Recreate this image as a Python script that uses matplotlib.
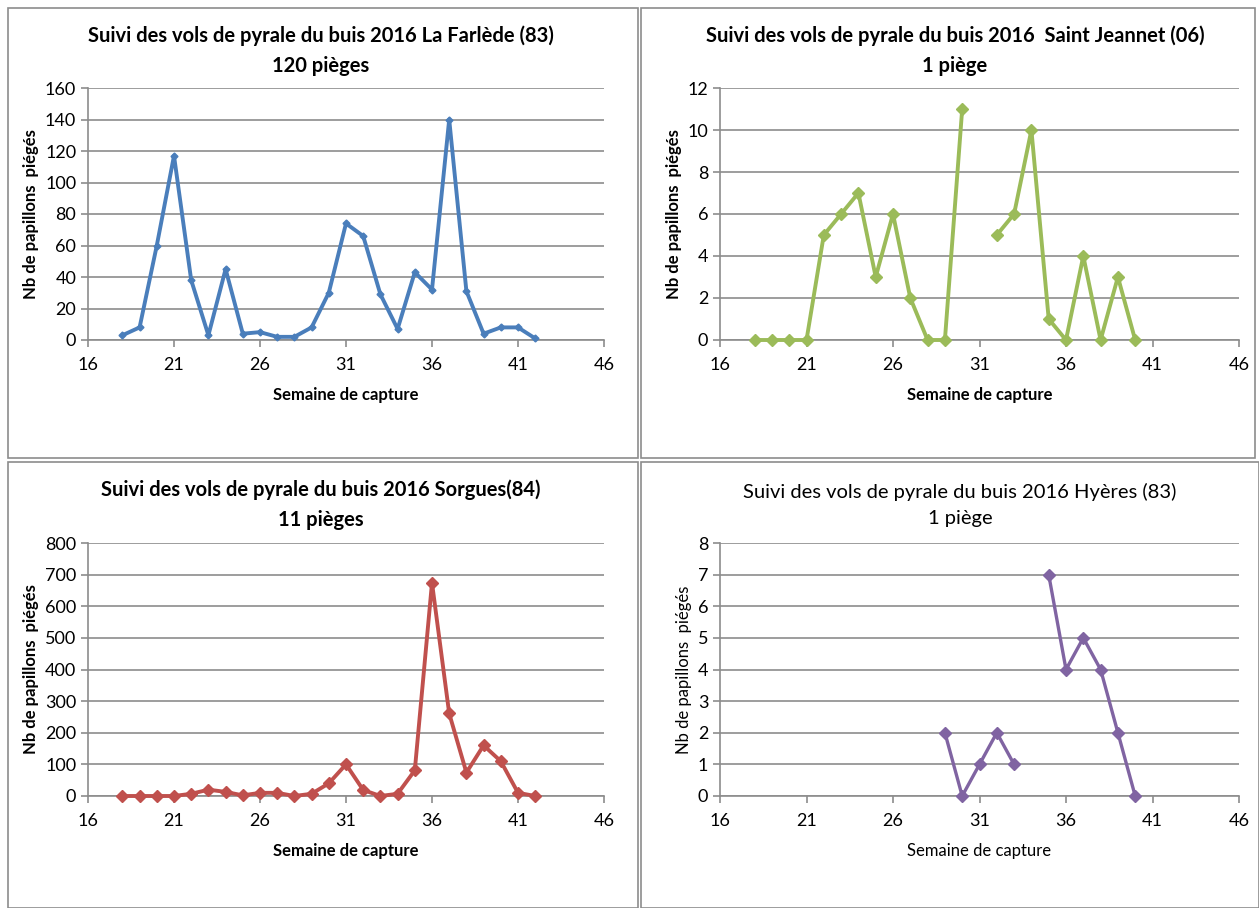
import numpy as np
import matplotlib
matplotlib.use("Agg")
import matplotlib.pyplot as plt
from matplotlib.patches import Rectangle

plt.rcParams['font.family'] = ['Liberation Sans Narrow', 'Lato', 'DejaVu Sans']

nan = np.nan
semaines = list(range(18, 43))

# La Farlède (83), 120 pièges
farlede = [3, 8, 60, 117, 38, 3, 45, 4, 5, 2, 2, 8, 30, 74, 66, 29, 7, 43, 32, 140, 31, 4, 8, 8, 1]
# Saint Jeannet (06), 1 piège
jeannet = [0, 0, 0, 0, 5, 6, 7, 3, 6, 2, 0, 0, 11, nan, 5, 6, 10, 1, 0, 4, 0, 3, 0, nan, nan]
# Sorgues (84), 11 pièges
sorgues = [0, 0, 0, 0, 7, 20, 13, 2, 10, 10, 0, 7, 40, 100, 19, 0, 7, 81, 674, 261, 74, 160, 110, 10, 0]
# Hyères (83), 1 piège
hyeres = [nan] * 11 + [2, 0, 1, 2, 1, nan, 7, 4, 5, 4, 2, 0, nan, nan]

W, H = 1259, 908
fig = plt.figure(figsize=(W / 100, H / 100), dpi=100)

def px(x0, y0, x1, y1):
    return [x0 / W, 1 - y1 / H, (x1 - x0) / W, (y1 - y0) / H]

# panel frames
for (x0, y0, x1, y1) in [(8, 8, 638, 458), (641, 8, 1255, 458), (8, 462, 638, 908), (641, 462, 1259, 908)]:
    fig.patches.append(Rectangle((x0 / W, 1 - y1 / H), (x1 - x0) / W, (y1 - y0) / H,
                                 transform=fig.transFigure, fill=False, edgecolor='#8c8c8c', lw=1.2))

panels = [
    (farlede, '#4A7EBB', 'D', 3.5, 2.8, (88, 88, 604, 340), 160, 20,
     'Suivi des vols de pyrale du buis 2016 La Farlède (83)\n120 pièges', (321, 51), 'bold'),
    (jeannet, '#9BBB59', 'D', 6.5, 2.8, (720, 88, 1239, 340), 12, 2,
     'Suivi des vols de pyrale du buis 2016  Saint Jeannet (06)\n1 piège', (955, 51), 'bold'),
    (sorgues, '#C0504D', 'D', 6.5, 2.8, (88, 543, 604, 796), 800, 100,
     'Suivi des vols de pyrale du buis 2016 Sorgues(84)\n11 pièges', (321, 505), 'bold'),
    (hyeres, '#8064A2', 'D', 6.5, 2.4, (720, 543, 1239, 796), 8, 1,
     'Suivi des vols de pyrale du buis 2016 Hyères (83)\n1 piège', (960, 505), 'normal'),
]

for vals, col, mk, ms, lw, box, ymax, ystep, title, tpos, tw in panels:
    ax = fig.add_axes(px(*box))
    ax.plot(semaines, vals, color=col, marker=mk, ms=ms, lw=lw, clip_on=False, zorder=3)
    ax.set_xlim(16, 46)
    ax.set_ylim(0, ymax)
    ax.set_xticks(range(16, 47, 5))
    ax.set_yticks(np.arange(0, ymax + ystep / 2, ystep))
    ax.yaxis.grid(True, color='#8c8c8c', lw=1.2)
    ax.set_axisbelow(True)
    for s in ['top', 'right']:
        ax.spines[s].set_visible(False)
    for s in ['left', 'bottom']:
        ax.spines[s].set_color('#8c8c8c')
        ax.spines[s].set_linewidth(1.2)
    ax.tick_params(axis='both', colors='#8c8c8c', labelcolor='black', labelsize=13, length=5, width=1.2)
    ax.tick_params(axis='x', pad=7)
    ax.set_xlabel('Semaine de capture', fontsize=12, fontweight=tw, labelpad=10)
    ax.set_ylabel('Nb de papillons  piégés', fontsize=12, fontweight=tw, labelpad=4)
    fig.text(tpos[0] / W, 1 - tpos[1] / H, title, ha='center', va='center',
             fontsize=14.5, fontweight='bold' if tw == 'bold' else 'normal', linespacing=1.6)

fig.savefig('out.png', dpi=100)
